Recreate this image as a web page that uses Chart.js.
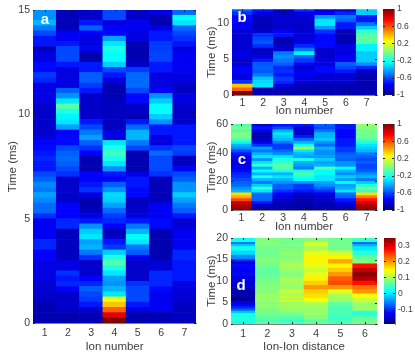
<!DOCTYPE html>
<html>
<head>
<meta charset="utf-8">
<script src="https://cdn.jsdelivr.net/npm/chart.js@4"></script>
<style>
html, body { margin: 0; padding: 0; background: #fff; }
canvas { position: absolute; }
</style>
</head>
<body>
<canvas id="chartA" width="205" height="357" style="left:0;top:0"></canvas>
<canvas id="chartB" width="175" height="118" style="left:205px;top:0"></canvas>
<canvas id="chartC" width="175" height="122" style="left:205px;top:112px"></canvas>
<canvas id="chartD" width="175" height="131" style="left:205px;top:226px"></canvas>
<canvas id="barB" width="35" height="118" style="left:380px;top:0"></canvas>
<canvas id="barC" width="35" height="122" style="left:380px;top:112px"></canvas>
<canvas id="barD" width="35" height="131" style="left:380px;top:226px"></canvas>
<script>
const ions = ['1', '2', '3', '4', '5', '6', '7'];
const distances = ['1', '2', '3', '4', '5', '6'];

// panel a, one list per ion, 0.25 ms rows from t = 0 upward
const a1 = [-.95,-.95,-.95,-.95,-.9,-.9,-.88,-.88,-.85,-.85,-.85,-.85,-.8,-.8,-.72,-.72,-.82,-.82,-.82,-.82,-.7,-.58,-.58,-.52,-.47,-.55,-.52,-.6,
  -.65,-.75,-.75,-.72,-.75,-.78,-.8,-.85,-.9,-.9,-.9,-.9,-.9,-.9,-.85,-.85,-.85,-.85,-.72,-.68,-.78,-.78,-.85,-.85,-.92,-.75,-.75,-.65,-.55,-.43,-.5,-.5];
const a2 = [-.95,-.95,-.9,-.9,-.9,-.9,-.8,-.72,-.75,-.7,-.85,-.85,-.92,-.92,-.92,-.92,-.92,-.92,-.72,-.72,-.8,-.8,-.8,-.9,-.9,-.9,-.9,-.9,
  -.7,-.65,-.6,-.58,-.6,-.65,-.78,-.78,-.8,-.47,-.33,-.3,-.23,-.1,-.33,-.5,-.6,-.85,-.85,-.85,-.85,-.75,-.65,-.65,-.65,-.75,-.82,-.82,-.93,-.93,-.93,-.93];
const a3 = [-.95,-.95,-.88,-.75,-.68,-.65,-.6,-.72,-.8,-.9,-.9,-.9,-.7,-.55,-.43,-.47,-.33,-.38,-.5,-.75,-.85,-.92,-.95,-.95,-.85,-.7,-.75,-.8,
  -.8,-.95,-.95,-.95,-.8,-.7,-.6,-.47,-.55,-.65,-.75,-.9,-.9,-.9,-.9,-.9,-.75,-.68,-.6,-.6,-.75,-.75,-.95,-.95,-.82,-.85,-.85,-.8,-.6,-.75,-.9,-.9];
const a4 = [1,.8,.55,.35,.2,-.33,-.43,-.5,-.47,-.33,-.23,-.12,-.23,-.38,-.68,-.75,-.9,-.95,-.8,-.72,-.68,-.58,-.47,-.38,-.35,-.5,-.6,-.8,
  -.75,-.5,-.33,-.23,-.15,-.23,-.33,-.85,-.85,-.92,-.92,-.92,-.92,-.92,-.92,-.95,-.95,-.95,-.85,-.75,-.65,-.38,-.28,-.28,-.23,-.33,-.47,-.78,-.8,-.85,-.65,-.65];
const a5 = [-.95,-.95,-.85,-.75,-.65,-.65,-.65,-.7,-.9,-.9,-.9,-.9,-.82,-.6,-.55,-.33,-.28,-.43,-.55,-.75,-.85,-.9,-.92,-.92,-.78,-.78,-.75,-.75,
  -.85,-.95,-.95,-.95,-.95,-.65,-.55,-.43,-.43,-.58,-.75,-.95,-.9,-.9,-.78,-.78,-.65,-.58,-.58,-.58,-.68,-.9,-.95,-.95,-.95,-.95,-.85,-.85,-.82,-.82,-.9,-.9];
const a6 = [-.95,-.95,-.82,-.82,-.82,-.82,-.78,-.72,-.72,-.72,-.88,-.88,-.95,-.95,-.95,-.95,-.95,-.95,-.78,-.78,-.82,-.82,-.82,-.93,-.93,-.93,-.93,-.93,
  -.7,-.65,-.65,-.65,-.58,-.7,-.85,-.85,-.75,-.75,-.5,-.38,-.28,-.28,-.38,-.5,-.8,-.85,-.85,-.85,-.75,-.75,-.66,-.66,-.68,-.68,-.75,-.75,-.85,-.95,-.95,-.85];
const a7 = [-.92,-.92,-.92,-.92,-.88,-.88,-.85,-.85,-.75,-.75,-.75,-.75,-.72,-.72,-.82,-.82,-.82,-.82,-.88,-.88,-.75,-.6,-.55,-.47,-.38,-.5,-.5,-.6,
  -.65,-.8,-.92,-.92,-.68,-.65,-.75,-.75,-.75,-.75,-.9,-.9,-.9,-.9,-.85,-.85,-.92,-.92,-.85,-.85,-.82,-.82,-.82,-.82,-.85,-.75,-.7,-.65,-.58,-.33,-.28,-.58];

// panel b, 0.5 ms rows
const b1 = [1,.55,.35,-.7,-.85,-.85,-.8,-.8,-.9,-.9,-.85,-.85,-.88,-.88,-.88,-.88,-.88,-.88,-.82,-.82,-.78,-.78,-.7,-.6];
const b2 = [-.95,-.95,-.33,-.35,-.4,-.55,-.62,-.6,-.62,-.75,-.85,-.92,-.9,-.7,-.62,-.65,-.7,-.88,-.93,-.93,-.93,-.92,-.85,-.75];
const b3 = [-.95,-.95,-.85,-.72,-.68,-.75,-.7,-.72,-.6,-.55,-.5,-.55,-.88,-.92,-.95,-.95,-.75,-.8,-.9,-.9,-.88,-.88,-.92,-.92];
const b4 = [-.95,-.95,-.95,-.85,-.85,-.82,-.82,-.9,-.78,-.68,-.6,-.3,-.55,-.72,-.85,-.85,-.88,-.88,-.9,-.9,-.88,-.88,-.85,-.7];
const b5 = [-.95,-.95,-.95,-.88,-.88,-.88,-.78,-.78,-.85,-.85,-.9,-.9,-.9,-.78,-.78,-.78,-.78,-.7,-.48,-.33,-.33,-.48,-.8,-.9];
const b6 = [-.95,-.95,-.95,-.88,-.88,-.88,-.75,-.65,-.6,-.8,-.8,-.85,-.85,-.85,-.95,-.95,-.95,-.95,-.75,-.75,-.6,-.55,-.72,-.85];
const b7 = [-.95,-.95,-.95,-.95,-.95,-.95,-.9,-.72,-.5,-.38,-.38,-.38,-.3,-.3,-.1,-.1,-.1,-.18,-.38,-.55,-.75,-.75,-.38,-.38];

// panel c, 2 ms rows
const c1 = [.95,.9,.85,.6,.4,.3,-.43,-.5,-.58,-.6,-.65,-.7,-.72,-.78,-.82,-.85,-.85,-.85,-.8,-.75,-.65,-.5,-.43,-.28,-.12,-.03,-.03,-.12,-.03,-.12];
const c2 = [-.95,-.9,-.75,-.6,-.58,-.58,-.33,-.18,-.38,-.55,-.43,-.23,-.43,-.28,-.43,-.18,-.33,-.5,-.33,-.43,-.55,-.47,-.7,-.85,-.9,-.95,-.95,-.8,-.75,-.85];
const c3 = [-.95,-.95,-.92,-.9,-.85,-.8,-.7,-.6,-.6,-.5,-.43,-.33,-.43,-.23,-.12,-.1,-.18,-.23,-.33,-.5,-.58,-.68,-.68,-.55,-.43,-.38,-.33,-.43,-.65,-.75];
const c4 = [-.97,-.97,-.95,-.95,-.92,-.9,-.75,-.68,-.68,-.5,-.28,-.23,-.12,-.23,-.55,-.47,-.43,-.23,-.47,-.43,-.33,.05,-.28,-.43,-.58,-.75,-.9,-.9,-.85,-.75];
const c5 = [-.95,-.95,-.92,-.9,-.88,-.85,-.7,-.6,-.5,-.47,-.33,-.33,-.28,-.28,-.12,-.43,-.47,-.38,-.47,-.5,-.5,-.43,-.58,-.5,-.38,-.43,-.43,-.55,-.65,-.6];
const c6 = [-.95,-.9,-.8,-.75,-.6,-.58,-.33,-.43,-.47,-.28,-.47,-.38,-.5,-.43,-.28,-.5,-.5,-.6,-.58,-.6,-.68,-.68,-.75,-.75,-.75,-.8,-.8,-.8,-.75,-.75];
const c7 = [.95,.9,.8,.7,.5,.3,-.18,-.05,-.23,-.38,-.55,-.43,-.5,-.6,-.65,-.65,-.6,-.65,-.6,-.55,-.43,-.38,-.33,-.23,-.12,-.05,-.05,-.05,-.02,.02];

// panel d, 0.5 ms rows
const d1 = [.02,.03,.03,.02,.02,-.02,-.07,-.1,-.12,-.14,-.16,-.19,-.16,-.16,-.17,-.17,-.15,-.15,-.14,-.14,-.14,-.14,-.13,-.13,-.13,-.13,-.12,-.12,-.15,-.1,-.05,-.05,-.01,-.01,.02,.02,-.02,-.06,.02,.02];
const d2 = [.06,.05,.06,.06,.07,.07,.08,.08,.09,.08,.09,.09,.09,.09,.08,.08,.08,.08,.08,.07,.07,.07,.06,.06,.06,.06,.07,.07,.08,.08,.08,.07,.07,.07,.07,.07,.08,.08,.08,.08];
const d3 = [.05,.04,.05,.06,.07,.08,.09,.09,.1,.09,.12,.1,.12,.1,.11,.12,.09,.09,.09,.1,.1,.09,.08,.08,.09,.09,.1,.1,.09,.09,.08,.08,.09,.08,.08,.07,.08,.07,.07,.07];
const d4 = [.06,.06,.08,.08,.09,.09,.09,.09,.1,.1,.14,.14,.16,.16,.17,.17,.2,.2,.17,.17,.15,.15,.13,.13,.12,.12,.13,.13,.15,.15,.15,.15,.13,.13,.1,.1,.12,.12,.08,.08];
const d5 = [.05,.05,.04,.04,.05,.05,.05,.05,.06,.06,.09,.09,.1,.1,.13,.13,.2,.2,.24,.24,.23,.23,.2,.2,.17,.17,.15,.15,.19,.19,.15,.15,.12,.12,.07,.07,.07,.07,.07,.07];
const d6 = [.07,.07,.06,.06,.03,.03,.09,.09,.09,.09,.12,.12,.14,.14,.2,.2,.22,.22,.27,.27,.32,.32,.34,.34,.31,.31,.27,.27,.08,.08,.06,.06,.03,.03,0,0,-.03,-.07,.03,.05];

const yTicksA = [0, 5, 10, 15];
const yTicksB = [0, 5, 10];
const yTicksC = [0, 20, 40, 60];
const yTicksD = [0, 5, 10, 15, 20];
const barTicksWide = [-1, -0.6, -0.2, 0.2, 0.6, 1];
const barTicksD = [-0.1, 0, 0.1, 0.2, 0.3];

// standard jet colours, position 0 to 1
const jetStops = [
    [0, 0, 0, 128], [0.125, 0, 0, 255], [0.375, 0, 255, 255],
    [0.625, 255, 255, 0], [0.875, 255, 0, 0], [1, 128, 0, 0]
];

const jet = t => {
    t = Math.min(1, Math.max(0, t));
    for (let i = 1; i < jetStops.length; i++) {
        const lo = jetStops[i - 1], hi = jetStops[i];
        if (t <= hi[0]) {
            const f = (t - lo[0]) / (hi[0] - lo[0]);
            const mix = k => Math.round(lo[k] + (hi[k] - lo[k]) * f);
            return 'rgb(' + mix(1) + ',' + mix(2) + ',' + mix(3) + ')';
        }
    }
};

const inkColor = '#404040';
const edgeColor = '#808080';

// inward ticks on all four sides, and the white panel letter
const panelExtras = {
    id: 'panelExtras',
    afterDraw: (chart, args, options) => {
        const {ctx, chartArea: area, scales} = chart;
        ctx.save();
        ctx.strokeStyle = '#222';
        ctx.lineWidth = 1;
        ctx.beginPath();
        if (scales.x.options.display) {
            scales.x.ticks.forEach((t, i) => {
                const px = Math.round(scales.x.getPixelForTick(i)) + 0.5;
                ctx.moveTo(px, area.bottom);
                ctx.lineTo(px, area.bottom - 2);
                ctx.moveTo(px, area.top);
                ctx.lineTo(px, area.top + 2);
            });
        }
        scales.y.ticks.forEach((t, i) => {
            const py = Math.round(scales.y.getPixelForTick(i)) + 0.5;
            ctx.moveTo(area.left, py);
            ctx.lineTo(area.left + 2, py);
            ctx.moveTo(area.right, py);
            ctx.lineTo(area.right - 2, py);
        });
        ctx.stroke();
        if (options.letter) {
            ctx.fillStyle = '#fff';
            ctx.font = 'bold 15px "Liberation Sans"';
            ctx.textAlign = 'center';
            ctx.textBaseline = 'middle';
            ctx.fillText(options.letter, area.left + options.letterX, area.top + options.letterY);
        }
        ctx.restore();
    }
};

function heatmap(id, spec) {
    const rows = spec.columns[0].length;
    const step = spec.rowStep;
    const datasets = [];
    for (let r = 0; r < rows; r++) {
        datasets.push({
            data: spec.columns.map(col => [r * step, (r + 1) * step]),
            backgroundColor: spec.columns.map(col => jet((col[r] - spec.low) / (spec.high - spec.low)))
        });
    }
    new Chart(document.getElementById(id), {
        type: 'bar',
        data: { labels: spec.labels, datasets: datasets },
        options: {
            responsive: false,
            animation: false,
            events: [],
            grouped: false,
            barPercentage: 1,
            categoryPercentage: 1,
            layout: { padding: spec.padding },
            plugins: {
                legend: { display: false },
                tooltip: { enabled: false },
                panelExtras: { letter: spec.letter, letterX: spec.letterX, letterY: spec.letterY }
            },
            scales: {
                x: {
                    grid: { display: false, drawTicks: false },
                    border: { color: edgeColor },
                    ticks: { color: inkColor, font: { family: 'Liberation Sans', size: 10.5 }, padding: spec.xPad, maxRotation: 0 },
                    title: { display: true, text: spec.xTitle, color: inkColor, font: { family: 'Liberation Sans', size: 11.5 }, padding: { top: 0, bottom: spec.xTitleGap } },
                    afterFit: s => { s.height = spec.xHeight; }
                },
                y: {
                    min: 0,
                    max: spec.yMax,
                    grid: { display: false, drawTicks: false },
                    border: { color: edgeColor },
                    afterBuildTicks: s => { s.ticks = spec.yTicks.map(v => ({ value: v })); },
                    ticks: { color: inkColor, font: { family: 'Liberation Sans', size: 10.5 }, padding: 3 },
                    title: { display: true, text: 'Time (ms)', color: inkColor, font: { family: 'Liberation Sans', size: 11.5 }, padding: { top: spec.yTitleGap, bottom: 0 } },
                    afterFit: s => { s.width = spec.yWidth; }
                }
            }
        },
        plugins: [panelExtras]
    });
}

function colorbar(id, spec) {
    new Chart(document.getElementById(id), {
        type: 'bar',
        data: {
            labels: [''],
            datasets: [{
                data: [[spec.low, spec.high]],
                backgroundColor: c => {
                    const {ctx, chartArea} = c.chart;
                    if (!chartArea) return jet(0.5);
                    const g = ctx.createLinearGradient(0, chartArea.bottom, 0, chartArea.top);
                    jetStops.forEach(s => g.addColorStop(s[0], 'rgb(' + s[1] + ',' + s[2] + ',' + s[3] + ')'));
                    return g;
                }
            }]
        },
        options: {
            responsive: false,
            animation: false,
            events: [],
            barPercentage: 1,
            categoryPercentage: 1,
            layout: { padding: spec.padding },
            plugins: { legend: { display: false }, tooltip: { enabled: false }, panelExtras: {} },
            scales: {
                x: { display: false },
                y: {
                    position: 'right',
                    min: spec.low,
                    max: spec.high,
                    grid: { display: false, drawTicks: false },
                    border: { color: edgeColor },
                    afterBuildTicks: s => { s.ticks = spec.ticks.map(v => ({ value: v })); },
                    ticks: { color: inkColor, font: { family: 'Liberation Sans', size: 8.5 }, padding: 3, callback: v => String(v) },
                    afterFit: s => { s.width = spec.yWidth; }
                }
            }
        },
        plugins: [panelExtras]
    });
}

// colours run a little brighter than the bar's nominal low end, hence -1.05
heatmap('chartA', {
    columns: [a1, a2, a3, a4, a5, a6, a7], labels: ions, rowStep: 0.25, low: -1.05, high: 1,
    yMax: 15, yTicks: yTicksA, xTitle: 'Ion number', letter: 'a', letterX: 12, letterY: 10,
    padding: { left: 0, top: 10, right: 9, bottom: 0 }, xHeight: 34, yWidth: 33, xPad: 4, xTitleGap: 3, yTitleGap: 6
});
heatmap('chartB', {
    columns: [b1, b2, b3, b4, b5, b6, b7], labels: ions, rowStep: 0.5, low: -1.05, high: 1,
    yMax: 11.85, yTicks: yTicksB, xTitle: 'Ion number', letter: 'b', letterX: 10, letterY: 9,
    padding: { left: 0, top: 9, right: 3, bottom: 0 }, xHeight: 23, yWidth: 27, xPad: 2, xTitleGap: 0, yTitleGap: 0
});
heatmap('chartC', {
    columns: [c1, c2, c3, c4, c5, c6, c7], labels: ions, rowStep: 2, low: -1.05, high: 1,
    yMax: 60, yTicks: yTicksC, xTitle: 'Ion number', letter: 'c', letterX: 11, letterY: 36,
    padding: { left: 0, top: 12, right: 3, bottom: 0 }, xHeight: 24, yWidth: 26, xPad: 2, xTitleGap: 0, yTitleGap: 0
});
heatmap('chartD', {
    columns: [d1, d2, d3, d4, d5, d6], labels: distances, rowStep: 0.5, low: -0.19, high: 0.345,
    yMax: 20, yTicks: yTicksD, xTitle: 'Ion-Ion distance', letter: 'd', letterX: 10, letterY: 48,
    padding: { left: 0, top: 12, right: 3, bottom: 0 }, xHeight: 33, yWidth: 26, xPad: 4, xTitleGap: 3, yTitleGap: 0
});

colorbar('barB', { low: -1, high: 1, ticks: barTicksWide, padding: { left: 3, top: 9, right: 0, bottom: 23 }, yWidth: 21 });
colorbar('barC', { low: -1, high: 1, ticks: barTicksWide, padding: { left: 3, top: 12, right: 0, bottom: 24 }, yWidth: 21 });
colorbar('barD', { low: -0.19, high: 0.345, ticks: barTicksD, padding: { left: 4, top: 12, right: 0, bottom: 33 }, yWidth: 20 });
</script>
</body>
</html>
